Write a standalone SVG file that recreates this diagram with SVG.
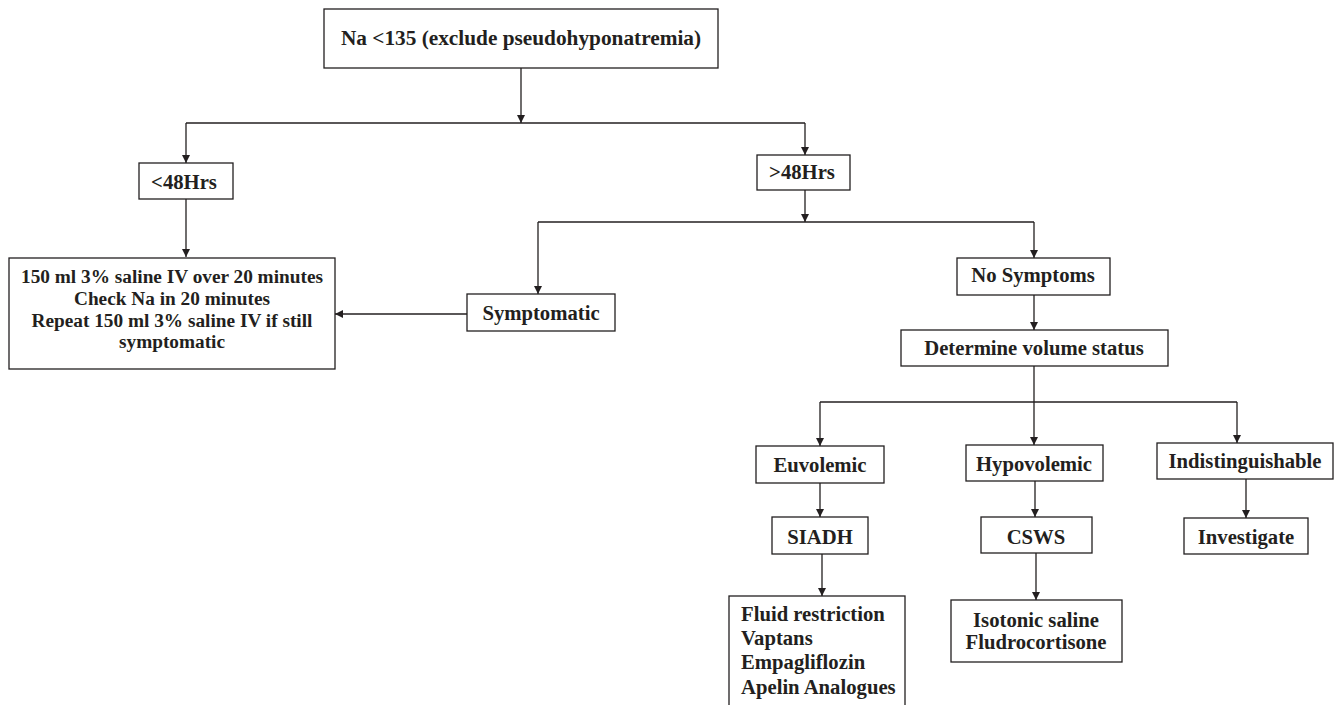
<svg xmlns="http://www.w3.org/2000/svg" width="1341" height="705" viewBox="0 0 1341 705">
<defs>
<marker id="ah" viewBox="0 0 10 10" refX="10" refY="5" markerWidth="8" markerHeight="8" markerUnits="userSpaceOnUse" orient="auto">
<path d="M0,0 L10,5 L0,10 Z" fill="#231f20"/>
</marker>
<style>
.box{fill:#fff;stroke:#231f20;stroke-width:1.3}
.t{font-family:"Liberation Serif","Times New Roman",serif;font-weight:bold;font-size:20.7px;fill:#231f20;text-anchor:middle}
.tb{font-size:19.3px}
.tl{text-anchor:start}
.c{fill:none;stroke:#231f20;stroke-width:1.3}
.a{marker-end:url(#ah)}
</style>
</defs>
<rect width="1341" height="705" fill="#fff"/>
<g id="connectors">
<path class="c a" d="M521,68 V123"/>
<path class="c" d="M186,123 H805"/>
<path class="c a" d="M186,123 V163"/>
<path class="c a" d="M805,123 V155"/>
<path class="c a" d="M186,199 V257"/>
<path class="c a" d="M805,190 V222"/>
<path class="c" d="M538,222 H1034"/>
<path class="c a" d="M538,222 V294"/>
<path class="c a" d="M1034,222 V258"/>
<path class="c a" d="M467,314 H335"/>
<path class="c a" d="M1034,295 V330"/>
<path class="c a" d="M1034,366 V445"/>
<path class="c" d="M820,402 H1237"/>
<path class="c a" d="M820,402 V446"/>
<path class="c a" d="M1237,402 V443"/>
<path class="c a" d="M820,483 V517"/>
<path class="c a" d="M1035,481 V517"/>
<path class="c a" d="M1246,479 V518"/>
<path class="c a" d="M822,554 V596"/>
<path class="c a" d="M1036,553 V600"/>
</g>
<g id="n-title"><rect class="box" x="324" y="9" width="394" height="59"/><text class="t" x="521" y="45" style="font-size:21.3px">Na &lt;135 (exclude pseudohyponatremia)</text></g>
<g id="n-lt48"><rect class="box" x="139" y="163" width="94" height="36"/><text class="t" x="184" y="189">&lt;48Hrs</text></g>
<g id="n-gt48"><rect class="box" x="757" y="155" width="93" height="35"/><text class="t" x="802" y="179">&gt;48Hrs</text></g>
<g id="n-treat"><rect class="box" x="9" y="258" width="326" height="111"/>
<text class="t tb" x="172" y="283">150 ml 3% saline IV over 20 minutes</text>
<text class="t tb" x="172" y="305">Check Na in 20 minutes</text>
<text class="t tb" x="172" y="327">Repeat 150 ml 3% saline IV if still</text>
<text class="t tb" x="172" y="348">symptomatic</text></g>
<g id="n-symptomatic"><rect class="box" x="467" y="294" width="148" height="37"/><text class="t" x="541" y="320">Symptomatic</text></g>
<g id="n-nosym"><rect class="box" x="957" y="258" width="153" height="37"/><text class="t" x="1033" y="282">No Symptoms</text></g>
<g id="n-determine"><rect class="box" x="901" y="330" width="267" height="36"/><text class="t" x="1034" y="355">Determine volume status</text></g>
<g id="n-euvo"><rect class="box" x="756" y="446" width="128" height="37"/><text class="t" x="820" y="472">Euvolemic</text></g>
<g id="n-hypo"><rect class="box" x="966" y="445" width="137" height="36"/><text class="t" x="1034" y="471">Hypovolemic</text></g>
<g id="n-indist"><rect class="box" x="1157" y="443" width="176" height="36"/><text class="t" x="1245" y="468">Indistinguishable</text></g>
<g id="n-siadh"><rect class="box" x="772" y="517" width="96" height="37"/><text class="t" x="820" y="544">SIADH</text></g>
<g id="n-csws"><rect class="box" x="981" y="517" width="111" height="36"/><text class="t" x="1036" y="544">CSWS</text></g>
<g id="n-investigate"><rect class="box" x="1184" y="518" width="124" height="36"/><text class="t" x="1246" y="544">Investigate</text></g>
<g id="n-fluid"><rect class="box" x="729" y="596" width="176" height="115"/>
<text class="t tl" x="741" y="621">Fluid restriction</text>
<text class="t tl" x="741" y="645">Vaptans</text>
<text class="t tl" x="741" y="669">Empagliflozin</text>
<text class="t tl" x="741" y="694">Apelin Analogues</text></g>
<g id="n-isotonic"><rect class="box" x="951" y="600" width="171" height="62"/>
<text class="t" x="1036" y="627">Isotonic saline</text>
<text class="t" x="1036" y="649">Fludrocortisone</text></g>
</svg>
